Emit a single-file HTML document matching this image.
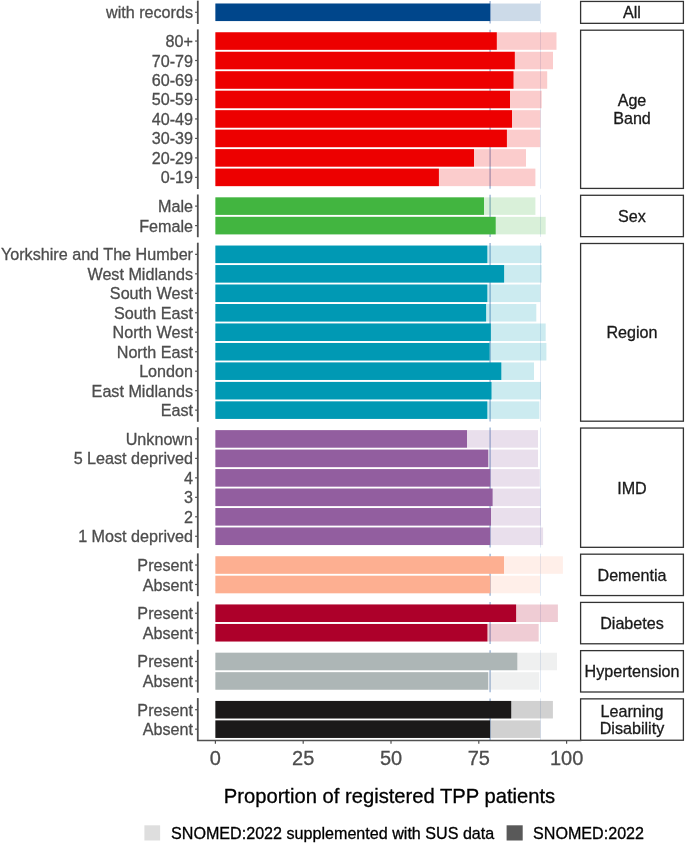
<!DOCTYPE html>
<html><head><meta charset="utf-8"><title>Proportion of registered TPP patients</title>
<style>
html,body{margin:0;padding:0;background:#fff}
#c{position:relative;width:685px;height:843px;overflow:hidden;background:#fff;font-family:"Liberation Sans",Arial,Helvetica,sans-serif}
#c svg{position:absolute;left:0;top:0}
.yl{position:absolute;right:492.0px;height:20px;line-height:20px;font-size:16.15px;color:#4d4d4d;-webkit-text-stroke:0.3px #4d4d4d;white-space:nowrap;text-align:right}
.st{position:absolute;left:580.6px;width:102.8px;display:flex;align-items:center;justify-content:center;text-align:center;font-size:16.14px;line-height:17.7px;color:#1a1a1a;-webkit-text-stroke:0.3px #1a1a1a;padding-top:1.6px;box-sizing:border-box}
.xl{position:absolute;top:746px;width:60px;text-align:center;font-size:20px;line-height:24px;color:#4d4d4d;-webkit-text-stroke:0.3px #4d4d4d}
.xt{position:absolute;left:189.5px;width:400px;top:784.3px;text-align:center;font-size:20.2px;line-height:24px;color:#000;-webkit-text-stroke:0.3px #000;white-space:nowrap}
.lg{position:absolute;top:823.2px;font-size:16.12px;line-height:20px;color:#000;-webkit-text-stroke:0.3px #000;white-space:nowrap}
</style></head><body>
<div id="c">
<svg width="685" height="843" viewBox="0 0 685 843">
<line x1="490.1" x2="490.1" y1="1.00" y2="23.59" stroke="#9db5d6" stroke-width="1.4"/>
<line x1="540.5" x2="540.5" y1="1.00" y2="23.59" stroke="#dde5f2" stroke-width="0.9"/>
<rect x="215.4" y="3.53" width="324.70" height="17.53" fill="#00468B" fill-opacity="0.2"/>
<rect x="215.4" y="3.53" width="274.70" height="17.53" fill="#00468B"/>
<line x1="195.1" x2="197.8" y1="12.30" y2="12.30" stroke="#505050" stroke-width="1.2"/>
<line x1="197.8" x2="197.8" y1="0.65" y2="23.94" stroke="#505050" stroke-width="1.8"/>
<rect x="580.6" y="1.45" width="102.8" height="21.89" fill="#fff" stroke="#333" stroke-width="1.3"/>
<line x1="490.1" x2="490.1" y1="29.75" y2="188.67" stroke="#9db5d6" stroke-width="1.4"/>
<line x1="540.5" x2="540.5" y1="29.75" y2="188.67" stroke="#dde5f2" stroke-width="0.9"/>
<rect x="215.4" y="32.28" width="341.10" height="17.53" fill="#ED0000" fill-opacity="0.2"/>
<rect x="215.4" y="32.28" width="281.40" height="17.53" fill="#ED0000"/>
<line x1="195.1" x2="197.8" y1="41.05" y2="41.05" stroke="#505050" stroke-width="1.2"/>
<rect x="215.4" y="51.76" width="337.60" height="17.53" fill="#ED0000" fill-opacity="0.2"/>
<rect x="215.4" y="51.76" width="299.40" height="17.53" fill="#ED0000"/>
<line x1="195.1" x2="197.8" y1="60.52" y2="60.52" stroke="#505050" stroke-width="1.2"/>
<rect x="215.4" y="71.23" width="331.80" height="17.53" fill="#ED0000" fill-opacity="0.2"/>
<rect x="215.4" y="71.23" width="298.10" height="17.53" fill="#ED0000"/>
<line x1="195.1" x2="197.8" y1="80.00" y2="80.00" stroke="#505050" stroke-width="1.2"/>
<rect x="215.4" y="90.71" width="326.30" height="17.53" fill="#ED0000" fill-opacity="0.2"/>
<rect x="215.4" y="90.71" width="294.60" height="17.53" fill="#ED0000"/>
<line x1="195.1" x2="197.8" y1="99.47" y2="99.47" stroke="#505050" stroke-width="1.2"/>
<rect x="215.4" y="110.18" width="325.10" height="17.53" fill="#ED0000" fill-opacity="0.2"/>
<rect x="215.4" y="110.18" width="296.60" height="17.53" fill="#ED0000"/>
<line x1="195.1" x2="197.8" y1="118.95" y2="118.95" stroke="#505050" stroke-width="1.2"/>
<rect x="215.4" y="129.66" width="324.90" height="17.53" fill="#ED0000" fill-opacity="0.2"/>
<rect x="215.4" y="129.66" width="291.50" height="17.53" fill="#ED0000"/>
<line x1="195.1" x2="197.8" y1="138.42" y2="138.42" stroke="#505050" stroke-width="1.2"/>
<rect x="215.4" y="149.13" width="310.60" height="17.53" fill="#ED0000" fill-opacity="0.2"/>
<rect x="215.4" y="149.13" width="258.60" height="17.53" fill="#ED0000"/>
<line x1="195.1" x2="197.8" y1="157.90" y2="157.90" stroke="#505050" stroke-width="1.2"/>
<rect x="215.4" y="168.61" width="320.00" height="17.53" fill="#ED0000" fill-opacity="0.2"/>
<rect x="215.4" y="168.61" width="223.50" height="17.53" fill="#ED0000"/>
<line x1="195.1" x2="197.8" y1="177.37" y2="177.37" stroke="#505050" stroke-width="1.2"/>
<line x1="197.8" x2="197.8" y1="29.40" y2="189.02" stroke="#505050" stroke-width="1.8"/>
<rect x="580.6" y="30.20" width="102.8" height="158.22" fill="#fff" stroke="#333" stroke-width="1.3"/>
<line x1="490.1" x2="490.1" y1="194.83" y2="236.89" stroke="#9db5d6" stroke-width="1.4"/>
<line x1="540.5" x2="540.5" y1="194.83" y2="236.89" stroke="#dde5f2" stroke-width="0.9"/>
<rect x="215.4" y="197.36" width="320.00" height="17.53" fill="#42B540" fill-opacity="0.2"/>
<rect x="215.4" y="197.36" width="268.60" height="17.53" fill="#42B540"/>
<line x1="195.1" x2="197.8" y1="206.12" y2="206.12" stroke="#505050" stroke-width="1.2"/>
<rect x="215.4" y="216.83" width="330.30" height="17.53" fill="#42B540" fill-opacity="0.2"/>
<rect x="215.4" y="216.83" width="280.30" height="17.53" fill="#42B540"/>
<line x1="195.1" x2="197.8" y1="225.60" y2="225.60" stroke="#505050" stroke-width="1.2"/>
<line x1="197.8" x2="197.8" y1="194.48" y2="237.24" stroke="#505050" stroke-width="1.8"/>
<rect x="580.6" y="195.28" width="102.8" height="41.37" fill="#fff" stroke="#333" stroke-width="1.3"/>
<line x1="490.1" x2="490.1" y1="243.05" y2="421.44" stroke="#9db5d6" stroke-width="1.4"/>
<line x1="540.5" x2="540.5" y1="243.05" y2="421.44" stroke="#dde5f2" stroke-width="0.9"/>
<rect x="215.4" y="245.58" width="326.30" height="17.53" fill="#0099B4" fill-opacity="0.2"/>
<rect x="215.4" y="245.58" width="271.90" height="17.53" fill="#0099B4"/>
<line x1="195.1" x2="197.8" y1="254.35" y2="254.35" stroke="#505050" stroke-width="1.2"/>
<rect x="215.4" y="265.06" width="326.30" height="17.53" fill="#0099B4" fill-opacity="0.2"/>
<rect x="215.4" y="265.06" width="288.70" height="17.53" fill="#0099B4"/>
<line x1="195.1" x2="197.8" y1="273.82" y2="273.82" stroke="#505050" stroke-width="1.2"/>
<rect x="215.4" y="284.53" width="324.90" height="17.53" fill="#0099B4" fill-opacity="0.2"/>
<rect x="215.4" y="284.53" width="271.90" height="17.53" fill="#0099B4"/>
<line x1="195.1" x2="197.8" y1="293.30" y2="293.30" stroke="#505050" stroke-width="1.2"/>
<rect x="215.4" y="304.01" width="320.90" height="17.53" fill="#0099B4" fill-opacity="0.2"/>
<rect x="215.4" y="304.01" width="270.70" height="17.53" fill="#0099B4"/>
<line x1="195.1" x2="197.8" y1="312.77" y2="312.77" stroke="#505050" stroke-width="1.2"/>
<rect x="215.4" y="323.48" width="330.30" height="17.53" fill="#0099B4" fill-opacity="0.2"/>
<rect x="215.4" y="323.48" width="275.40" height="17.53" fill="#0099B4"/>
<line x1="195.1" x2="197.8" y1="332.25" y2="332.25" stroke="#505050" stroke-width="1.2"/>
<rect x="215.4" y="342.96" width="331.00" height="17.53" fill="#0099B4" fill-opacity="0.2"/>
<rect x="215.4" y="342.96" width="274.20" height="17.53" fill="#0099B4"/>
<line x1="195.1" x2="197.8" y1="351.72" y2="351.72" stroke="#505050" stroke-width="1.2"/>
<rect x="215.4" y="362.43" width="318.60" height="17.53" fill="#0099B4" fill-opacity="0.2"/>
<rect x="215.4" y="362.43" width="285.90" height="17.53" fill="#0099B4"/>
<line x1="195.1" x2="197.8" y1="371.20" y2="371.20" stroke="#505050" stroke-width="1.2"/>
<rect x="215.4" y="381.91" width="325.40" height="17.53" fill="#0099B4" fill-opacity="0.2"/>
<rect x="215.4" y="381.91" width="276.10" height="17.53" fill="#0099B4"/>
<line x1="195.1" x2="197.8" y1="390.67" y2="390.67" stroke="#505050" stroke-width="1.2"/>
<rect x="215.4" y="401.38" width="324.00" height="17.53" fill="#0099B4" fill-opacity="0.2"/>
<rect x="215.4" y="401.38" width="271.90" height="17.53" fill="#0099B4"/>
<line x1="195.1" x2="197.8" y1="410.15" y2="410.15" stroke="#505050" stroke-width="1.2"/>
<line x1="197.8" x2="197.8" y1="242.70" y2="421.79" stroke="#505050" stroke-width="1.8"/>
<rect x="580.6" y="243.50" width="102.8" height="177.69" fill="#fff" stroke="#333" stroke-width="1.3"/>
<line x1="490.1" x2="490.1" y1="427.60" y2="547.57" stroke="#9db5d6" stroke-width="1.4"/>
<line x1="540.5" x2="540.5" y1="427.60" y2="547.57" stroke="#dde5f2" stroke-width="0.9"/>
<rect x="215.4" y="430.14" width="322.60" height="17.53" fill="#925E9F" fill-opacity="0.2"/>
<rect x="215.4" y="430.14" width="251.60" height="17.53" fill="#925E9F"/>
<line x1="195.1" x2="197.8" y1="438.90" y2="438.90" stroke="#505050" stroke-width="1.2"/>
<rect x="215.4" y="449.61" width="322.60" height="17.53" fill="#925E9F" fill-opacity="0.2"/>
<rect x="215.4" y="449.61" width="272.80" height="17.53" fill="#925E9F"/>
<line x1="195.1" x2="197.8" y1="458.37" y2="458.37" stroke="#505050" stroke-width="1.2"/>
<rect x="215.4" y="469.09" width="324.40" height="17.53" fill="#925E9F" fill-opacity="0.2"/>
<rect x="215.4" y="469.09" width="274.90" height="17.53" fill="#925E9F"/>
<line x1="195.1" x2="197.8" y1="477.85" y2="477.85" stroke="#505050" stroke-width="1.2"/>
<rect x="215.4" y="488.56" width="325.10" height="17.53" fill="#925E9F" fill-opacity="0.2"/>
<rect x="215.4" y="488.56" width="277.20" height="17.53" fill="#925E9F"/>
<line x1="195.1" x2="197.8" y1="497.32" y2="497.32" stroke="#505050" stroke-width="1.2"/>
<rect x="215.4" y="508.04" width="325.60" height="17.53" fill="#925E9F" fill-opacity="0.2"/>
<rect x="215.4" y="508.04" width="275.60" height="17.53" fill="#925E9F"/>
<line x1="195.1" x2="197.8" y1="516.80" y2="516.80" stroke="#505050" stroke-width="1.2"/>
<rect x="215.4" y="527.51" width="327.70" height="17.53" fill="#925E9F" fill-opacity="0.2"/>
<rect x="215.4" y="527.51" width="274.70" height="17.53" fill="#925E9F"/>
<line x1="195.1" x2="197.8" y1="536.27" y2="536.27" stroke="#505050" stroke-width="1.2"/>
<line x1="197.8" x2="197.8" y1="427.25" y2="547.92" stroke="#505050" stroke-width="1.8"/>
<rect x="580.6" y="428.05" width="102.8" height="119.27" fill="#fff" stroke="#333" stroke-width="1.3"/>
<line x1="490.1" x2="490.1" y1="553.73" y2="595.80" stroke="#9db5d6" stroke-width="1.4"/>
<line x1="540.5" x2="540.5" y1="553.73" y2="595.80" stroke="#dde5f2" stroke-width="0.9"/>
<rect x="215.4" y="556.26" width="347.50" height="17.53" fill="#FDAF91" fill-opacity="0.2"/>
<rect x="215.4" y="556.26" width="288.60" height="17.53" fill="#FDAF91"/>
<line x1="195.1" x2="197.8" y1="565.03" y2="565.03" stroke="#505050" stroke-width="1.2"/>
<rect x="215.4" y="575.74" width="324.70" height="17.53" fill="#FDAF91" fill-opacity="0.2"/>
<rect x="215.4" y="575.74" width="274.90" height="17.53" fill="#FDAF91"/>
<line x1="195.1" x2="197.8" y1="584.50" y2="584.50" stroke="#505050" stroke-width="1.2"/>
<line x1="197.8" x2="197.8" y1="553.38" y2="596.15" stroke="#505050" stroke-width="1.8"/>
<rect x="580.6" y="554.18" width="102.8" height="41.37" fill="#fff" stroke="#333" stroke-width="1.3"/>
<line x1="490.1" x2="490.1" y1="601.96" y2="644.02" stroke="#9db5d6" stroke-width="1.4"/>
<line x1="540.5" x2="540.5" y1="601.96" y2="644.02" stroke="#dde5f2" stroke-width="0.9"/>
<rect x="215.4" y="604.49" width="342.50" height="17.53" fill="#AD002A" fill-opacity="0.2"/>
<rect x="215.4" y="604.49" width="300.70" height="17.53" fill="#AD002A"/>
<line x1="195.1" x2="197.8" y1="613.25" y2="613.25" stroke="#505050" stroke-width="1.2"/>
<rect x="215.4" y="623.96" width="323.30" height="17.53" fill="#AD002A" fill-opacity="0.2"/>
<rect x="215.4" y="623.96" width="272.00" height="17.53" fill="#AD002A"/>
<line x1="195.1" x2="197.8" y1="632.73" y2="632.73" stroke="#505050" stroke-width="1.2"/>
<line x1="197.8" x2="197.8" y1="601.61" y2="644.37" stroke="#505050" stroke-width="1.8"/>
<rect x="580.6" y="602.41" width="102.8" height="41.37" fill="#fff" stroke="#333" stroke-width="1.3"/>
<line x1="490.1" x2="490.1" y1="650.18" y2="692.25" stroke="#9db5d6" stroke-width="1.4"/>
<line x1="540.5" x2="540.5" y1="650.18" y2="692.25" stroke="#dde5f2" stroke-width="0.9"/>
<rect x="215.4" y="652.71" width="341.60" height="17.53" fill="#ADB6B6" fill-opacity="0.2"/>
<rect x="215.4" y="652.71" width="301.90" height="17.53" fill="#ADB6B6"/>
<line x1="195.1" x2="197.8" y1="661.48" y2="661.48" stroke="#505050" stroke-width="1.2"/>
<rect x="215.4" y="672.19" width="323.80" height="17.53" fill="#ADB6B6" fill-opacity="0.2"/>
<rect x="215.4" y="672.19" width="272.70" height="17.53" fill="#ADB6B6"/>
<line x1="195.1" x2="197.8" y1="680.95" y2="680.95" stroke="#505050" stroke-width="1.2"/>
<line x1="197.8" x2="197.8" y1="649.83" y2="692.60" stroke="#505050" stroke-width="1.8"/>
<rect x="580.6" y="650.63" width="102.8" height="41.37" fill="#fff" stroke="#333" stroke-width="1.3"/>
<line x1="490.1" x2="490.1" y1="698.41" y2="740.47" stroke="#9db5d6" stroke-width="1.4"/>
<line x1="540.5" x2="540.5" y1="698.41" y2="740.47" stroke="#dde5f2" stroke-width="0.9"/>
<rect x="215.4" y="700.94" width="337.50" height="17.53" fill="#1B1919" fill-opacity="0.2"/>
<rect x="215.4" y="700.94" width="295.80" height="17.53" fill="#1B1919"/>
<line x1="195.1" x2="197.8" y1="709.70" y2="709.70" stroke="#505050" stroke-width="1.2"/>
<rect x="215.4" y="720.41" width="325.00" height="17.53" fill="#1B1919" fill-opacity="0.2"/>
<rect x="215.4" y="720.41" width="274.60" height="17.53" fill="#1B1919"/>
<line x1="195.1" x2="197.8" y1="729.18" y2="729.18" stroke="#505050" stroke-width="1.2"/>
<line x1="197.8" x2="197.8" y1="698.06" y2="740.82" stroke="#505050" stroke-width="1.8"/>
<rect x="580.6" y="698.86" width="102.8" height="41.37" fill="#fff" stroke="#333" stroke-width="1.3"/>
<line x1="197.8" x2="580.6" y1="740.47" y2="740.47" stroke="#505050" stroke-width="1.6" stroke-linecap="square"/>
<line x1="215.40" x2="215.40" y1="740.47" y2="743.67" stroke="#505050" stroke-width="1.2"/>
<line x1="303.20" x2="303.20" y1="740.47" y2="743.67" stroke="#505050" stroke-width="1.2"/>
<line x1="391.00" x2="391.00" y1="740.47" y2="743.67" stroke="#505050" stroke-width="1.2"/>
<line x1="478.80" x2="478.80" y1="740.47" y2="743.67" stroke="#505050" stroke-width="1.2"/>
<line x1="566.60" x2="566.60" y1="740.47" y2="743.67" stroke="#505050" stroke-width="1.2"/>
<rect x="144.4" y="825.3" width="15.7" height="15.2" fill="#595959" fill-opacity="0.2"/>
<rect x="506.6" y="825.3" width="16.1" height="15.2" fill="#595959"/>
</svg>
<div class="yl" style="top:2.30px">with records</div>
<div class="st" style="top:1.00px;height:22.59px"><span>All</span></div>
<div class="yl" style="top:31.05px">80+</div>
<div class="yl" style="top:50.52px">70-79</div>
<div class="yl" style="top:70.00px">60-69</div>
<div class="yl" style="top:89.47px">50-59</div>
<div class="yl" style="top:108.95px">40-49</div>
<div class="yl" style="top:128.42px">30-39</div>
<div class="yl" style="top:147.90px">20-29</div>
<div class="yl" style="top:167.37px">0-19</div>
<div class="st" style="top:29.75px;height:158.92px"><span>Age<br>Band</span></div>
<div class="yl" style="top:196.12px">Male</div>
<div class="yl" style="top:215.60px">Female</div>
<div class="st" style="top:194.83px;height:42.07px"><span>Sex</span></div>
<div class="yl" style="top:244.35px">Yorkshire and The Humber</div>
<div class="yl" style="top:263.82px">West Midlands</div>
<div class="yl" style="top:283.30px">South West</div>
<div class="yl" style="top:302.77px">South East</div>
<div class="yl" style="top:322.25px">North West</div>
<div class="yl" style="top:341.72px">North East</div>
<div class="yl" style="top:361.20px">London</div>
<div class="yl" style="top:380.67px">East Midlands</div>
<div class="yl" style="top:400.15px">East</div>
<div class="st" style="top:243.05px;height:178.39px"><span>Region</span></div>
<div class="yl" style="top:428.90px">Unknown</div>
<div class="yl" style="top:448.37px">5 Least deprived</div>
<div class="yl" style="top:467.85px">4</div>
<div class="yl" style="top:487.32px">3</div>
<div class="yl" style="top:506.80px">2</div>
<div class="yl" style="top:526.27px">1 Most deprived</div>
<div class="st" style="top:427.60px;height:119.97px"><span>IMD</span></div>
<div class="yl" style="top:555.03px">Present</div>
<div class="yl" style="top:574.50px">Absent</div>
<div class="st" style="top:553.73px;height:42.07px"><span>Dementia</span></div>
<div class="yl" style="top:603.25px">Present</div>
<div class="yl" style="top:622.73px">Absent</div>
<div class="st" style="top:601.96px;height:42.07px"><span>Diabetes</span></div>
<div class="yl" style="top:651.48px">Present</div>
<div class="yl" style="top:670.95px">Absent</div>
<div class="st" style="top:650.18px;height:42.07px"><span>Hypertension</span></div>
<div class="yl" style="top:699.70px">Present</div>
<div class="yl" style="top:719.18px">Absent</div>
<div class="st" style="top:698.41px;height:42.07px"><span>Learning<br>Disability</span></div>
<div class="xl" style="left:185.40px">0</div>
<div class="xl" style="left:273.20px">25</div>
<div class="xl" style="left:361.00px">50</div>
<div class="xl" style="left:448.80px">75</div>
<div class="xl" style="left:536.60px">100</div>
<div class="xt">Proportion of registered TPP patients</div>
<div class="lg" style="left:171px">SNOMED:2022 supplemented with SUS data</div>
<div class="lg" style="left:533px">SNOMED:2022</div>
</div>
</body></html>
